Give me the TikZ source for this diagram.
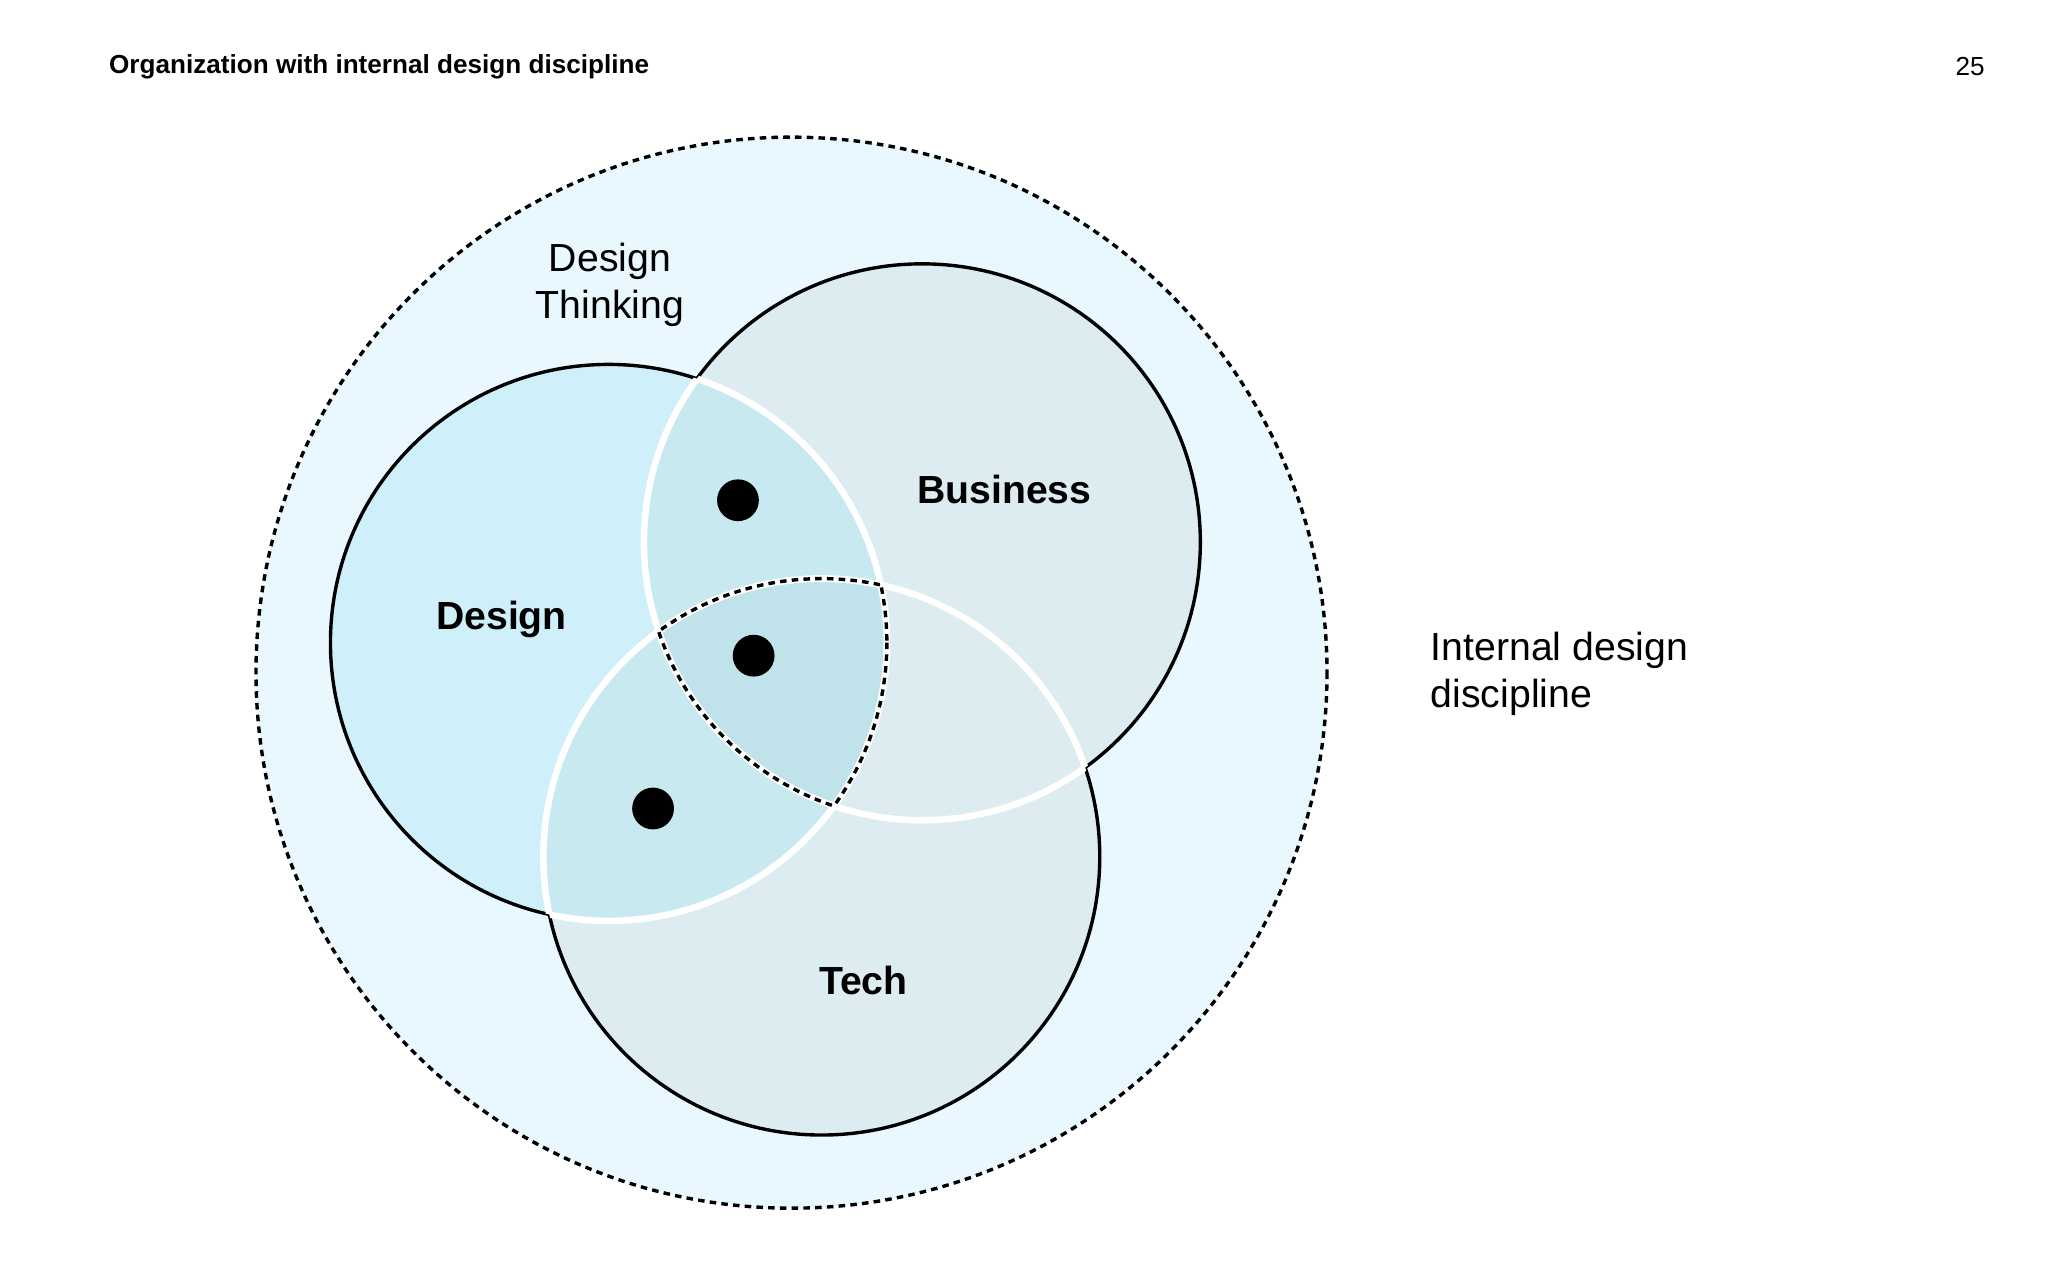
\documentclass[tikz,border=0pt]{standalone}
\usepackage{fontspec}
\setmainfont{Liberation Sans}
\begin{document}
\begin{tikzpicture}[x=1pt,y=-1pt,
  lbl/.style={font=\fontsize{30}{36}\selectfont, align=center},
  blbl/.style={font=\fontsize{30}{36}\selectfont\bfseries},
  dot/.style={fill=black, circle, inner sep=0pt, minimum size=32pt}]
\useasboundingbox (0,0) rectangle (1568,980);
\fill[white] (0,0) rectangle (1568,980);
\def\D{(466,492) circle (213)}
\def\B{(706,415) circle (213)}
\def\T{(629,656) circle (213)}
% outer
\fill[cyan!9] (606,515) circle (410);
\draw[line width=2.6pt, dash pattern=on 5pt off 4pt] (606,515) circle (410);
% fills
\fill[fill={rgb,255:red,207;green,240;blue,250}] \D;
\fill[fill={rgb,255:red,221;green,236;blue,240}] \B;
\fill[fill={rgb,255:red,221;green,236;blue,240}] \T;
\begin{scope}\clip \D; \fill[fill={rgb,255:red,201;green,233;blue,241}] \B; \fill[fill={rgb,255:red,201;green,233;blue,241}] \T;\end{scope}
\begin{scope}\clip \D; \clip \B; \fill[fill={rgb,255:red,192;green,226;blue,234}] \T;\end{scope}
% black outlines
\draw[line width=2.6pt] \D; \draw[line width=2.6pt] \B; \draw[line width=2.6pt] \T;
% white inner arcs
\begin{scope}\clip \B; \draw[white,line width=5pt] \D; \draw[white,line width=5pt] \T;\end{scope}
\begin{scope}\clip \D; \draw[white,line width=5pt] \B; \draw[white,line width=5pt] \T;\end{scope}
\begin{scope}\clip \T; \draw[white,line width=5pt] \B; \draw[white,line width=5pt] \D;\end{scope}
% dashed triple intersection
\begin{scope}\clip \B; \clip \T; \draw[line width=2.6pt, dash pattern=on 5pt off 4pt] \D;\end{scope}
\begin{scope}\clip \D; \clip \T; \draw[line width=2.6pt, dash pattern=on 5pt off 4pt] \B;\end{scope}
\begin{scope}\clip \D; \clip \B; \draw[line width=2.6pt, dash pattern=on 5pt off 4pt] \T;\end{scope}
% dots
\node[dot] (d1) at (565,383) {};
\node[dot] (d2) at (577,502) {};
\node[dot] (d3) at (500,619) {};
% labels
\node[blbl] (ld) at (384,474) {Design};
\node[blbl] (lb) at (769,375) {Business};
\node[blbl] (lt) at (661,751) {Tech};
\node[lbl] (dt) at (467,218) {Design\\Thinking};
\node[lbl, align=left, anchor=west] (idd) at (1092,516) {Internal design\\discipline};
\node[anchor=west, font=\fontsize{20}{24}\selectfont\bfseries] (title) at (80,51) {Organization with internal design discipline};
\node[anchor=east, font=\fontsize{20}{24}\selectfont] (pg) at (1523,51) {25};
\end{tikzpicture}
\end{document}
